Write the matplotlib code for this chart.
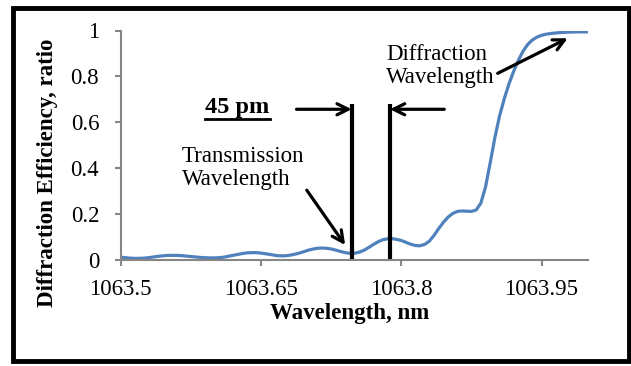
import matplotlib
matplotlib.use("Agg")
import matplotlib.pyplot as plt
from matplotlib.patches import Rectangle
from matplotlib.lines import Line2D

# ── data ──────────────────────────────────────────────────────────────────────
wavelength = [
    1063.500, 1063.505, 1063.510, 1063.515, 1063.520, 1063.525, 1063.530,
    1063.535, 1063.540, 1063.545, 1063.550, 1063.555, 1063.560, 1063.565,
    1063.570, 1063.575, 1063.580, 1063.585, 1063.590, 1063.595, 1063.600,
    1063.605, 1063.610, 1063.615, 1063.620, 1063.625, 1063.630, 1063.635,
    1063.640, 1063.645, 1063.650, 1063.655, 1063.660, 1063.665, 1063.670,
    1063.675, 1063.680, 1063.685, 1063.690, 1063.695, 1063.700, 1063.705,
    1063.710, 1063.715, 1063.720, 1063.725, 1063.730, 1063.735, 1063.740,
    1063.745, 1063.750, 1063.755, 1063.760, 1063.765, 1063.770, 1063.775,
    1063.780, 1063.785, 1063.790, 1063.795, 1063.800, 1063.805, 1063.810,
    1063.815, 1063.820, 1063.825, 1063.830, 1063.835, 1063.840, 1063.845,
    1063.850, 1063.855, 1063.860, 1063.865, 1063.870, 1063.875, 1063.880,
    1063.885, 1063.890, 1063.895, 1063.900, 1063.905, 1063.910, 1063.915,
    1063.920, 1063.925, 1063.930, 1063.935, 1063.940, 1063.945, 1063.950,
    1063.955, 1063.960, 1063.970, 1063.980, 1063.990, 1064.000,
]
efficiency = [
    0.010, 0.008, 0.006, 0.005, 0.005, 0.006, 0.008,
    0.011, 0.014, 0.016, 0.018, 0.018, 0.018, 0.017,
    0.015, 0.013, 0.011, 0.009, 0.008, 0.007, 0.007,
    0.008, 0.010, 0.014, 0.018, 0.022, 0.026, 0.029,
    0.030, 0.030, 0.028, 0.025, 0.022, 0.018, 0.016,
    0.016, 0.018, 0.022, 0.027, 0.033, 0.040, 0.045,
    0.049, 0.050, 0.049, 0.046, 0.041, 0.035, 0.030,
    0.027, 0.027, 0.032, 0.040, 0.052, 0.065, 0.077,
    0.086, 0.090, 0.091, 0.088, 0.083, 0.075, 0.067,
    0.061, 0.060, 0.066, 0.080, 0.105, 0.135, 0.162,
    0.185, 0.201, 0.210, 0.212, 0.211, 0.210, 0.216,
    0.245, 0.315, 0.420, 0.530, 0.625, 0.700, 0.765,
    0.820, 0.868, 0.908, 0.938, 0.958, 0.971, 0.979,
    0.984, 0.987, 0.991, 0.993, 0.994, 0.994,
]

x_ticks = [1063.5, 1063.65, 1063.8, 1063.95]
x_tick_labels = ["1063.5", "1063.65", "1063.8", "1063.95"]
y_ticks = [0, 0.2, 0.4, 0.6, 0.8, 1.0]
y_tick_labels = ["0", "0.2", "0.4", "0.6", "0.8", "1"]

trans_line = 1063.747   # transmission wavelength marker
diff_line = 1063.788    # diffraction wavelength marker
marker_top = 0.679

plt.rcParams["font.family"] = ["Liberation Serif", "DejaVu Serif"]
FS = 16.5

W, H = 631, 366
fig = plt.figure(figsize=(W / 100, H / 100), dpi=100)
ax = fig.add_axes([120.7 / W, 1 - 259.5 / H, (588.3 - 120.7) / W, (259.5 - 30.5) / H])

ax.plot(wavelength, efficiency, color="#4F81BD", lw=2.3,
        solid_capstyle="round", solid_joinstyle="round")

ax.set_xlim(1063.5, 1064.0)
ax.set_ylim(0, 1)
ax.set_xticks(x_ticks)
ax.set_xticklabels(x_tick_labels)
ax.set_yticks(y_ticks)
ax.set_yticklabels(y_tick_labels)

grey = "#868686"
for side in ("top", "right"):
    ax.spines[side].set_visible(False)
for side in ("left", "bottom"):
    ax.spines[side].set_color(grey)
    ax.spines[side].set_linewidth(1.5)
ax.tick_params(axis="both", colors=grey, labelcolor="black", labelsize=FS,
               length=4, width=1.5, direction="out")
ax.tick_params(axis="y", pad=11.5)
ax.tick_params(axis="x", pad=10)

# ── marker lines and annotations ──────────────────────────────────────────────
ax.vlines([trans_line, diff_line], 0, marker_top, color="black", lw=3)

arrow = dict(arrowstyle="->", lw=2.3, color="black", mutation_scale=20,
             shrinkA=0, shrinkB=0)
ax.annotate("", xy=(trans_line, 0.656), xytext=(1063.688, 0.656), arrowprops=arrow)
ax.annotate("", xy=(diff_line, 0.656), xytext=(1063.846, 0.656), arrowprops=arrow)

pm = ax.text(1063.625, 0.64, "45 pm", fontsize=17.5, fontweight="bold",
             ha="center", va="baseline")

ax.annotate("Transmission\nWavelength", xy=(1063.740, 0.063),
            xytext=(1063.565, 0.40), fontsize=FS, ha="left", va="center",
            multialignment="left", linespacing=1.1,
            arrowprops=dict(arrowstyle="->", lw=2.3, color="black",
                            mutation_scale=20, shrinkA=0, shrinkB=0,
                            relpos=(1.0, 0.08)))
ax.annotate("Diffraction\nWavelength", xy=(1063.978, 0.966),
            xytext=(1063.784, 0.845), fontsize=FS, ha="left", va="center",
            multialignment="left", linespacing=1.1,
            arrowprops=dict(arrowstyle="->", lw=2.3, color="black",
                            mutation_scale=20, shrinkA=0, shrinkB=0,
                            relpos=(1.0, 0.3)))

fig.text(350 / W, 1 - 313 / H, "Wavelength, nm", fontsize=FS, fontweight="bold",
         ha="center", va="center")
fig.text(47 / W, 1 - 172.5 / H, "Diffraction Efficiency, ratio", fontsize=FS,
         fontweight="bold", rotation=90, ha="center", va="center")

# outer frame
fig.patches.append(Rectangle((12.5 / W, 1 - 360.5 / H), 616 / W, 353 / H,
                             transform=fig.transFigure, fill=False,
                             edgecolor="black", lw=3.5))

# underline for "45 pm"
fig.canvas.draw()
bb = pm.get_window_extent()
uy = bb.y0 - 1
fig.add_artist(Line2D([bb.x0 / W, bb.x1 / W], [uy / H, uy / H],
                      transform=fig.transFigure, color="black", lw=2))

fig.savefig("out.png", dpi=100)
